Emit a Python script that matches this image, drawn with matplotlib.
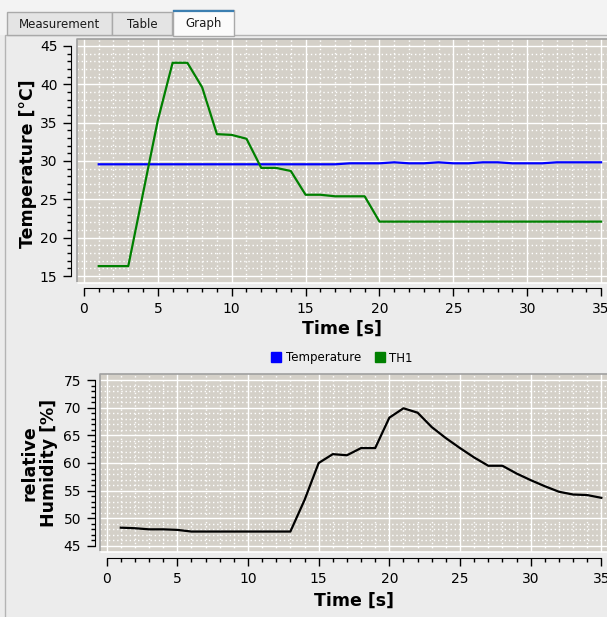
import matplotlib
matplotlib.use('Agg')
import matplotlib.pyplot as plt
from matplotlib.lines import Line2D
from matplotlib.patches import Rectangle
from matplotlib.ticker import FixedLocator

# data (1 sample per second)
time_s = list(range(1, 36))
temperature = [29.57] * 17 + [29.7, 29.7, 29.7, 29.83, 29.7, 29.7, 29.83, 29.7,
                               29.7, 29.83, 29.83, 29.7, 29.7, 29.7, 29.83, 29.83,
                               29.83, 29.83]
th1 = [16.3, 16.3, 16.3, 25.8, 35.3, 42.8, 42.8, 39.6, 33.5, 33.4,
       32.9, 29.1, 29.1, 28.7, 25.6, 25.6, 25.4, 25.4, 25.4, 22.1] + [22.1] * 15
humidity = [48.3, 48.2, 48.0, 48.0, 47.9, 47.6, 47.6, 47.6, 47.6, 47.6,
            47.6, 47.6, 47.6, 53.3, 60.0, 61.6, 61.4, 62.7, 62.7, 68.2,
            69.9, 69.1, 66.5, 64.5, 62.7, 61.0, 59.5, 59.5, 58.1, 56.9,
            55.8, 54.8, 54.3, 54.2, 53.7]

tab_names = ['Measurement', 'Table', 'Graph']
x_ticks = list(range(0, 36, 5))

W, H = 607, 617
fig = plt.figure(figsize=(W / 100, H / 100), dpi=100, facecolor='#ececec')


def box(l, t, r, b):
    return [l / W, 1 - b / H, (r - l) / W, (b - t) / H]


def rect(l, t, r, b, **kw):
    fig.patches.append(Rectangle((l / W, 1 - b / H), (r - l) / W, (b - t) / H,
                                 transform=fig.transFigure, zorder=-5, **kw))


# window chrome: strip above tabs, panel, tabs
rect(0, 0, W, 35, facecolor='#f3f3f3', edgecolor='none')
rect(5, 35, W + 5, H + 5, facecolor='#ececec', edgecolor='#b4b4b4', lw=1)
tab_x = [(7, 112), (112, 172), (173, 234)]
for name, (l, r) in zip(tab_names, tab_x):
    sel = name == 'Graph'
    top = 10 if sel else 12
    rect(l, top, r, 36 if sel else 35,
         facecolor='#fbfbfb' if sel else '#e4e4e4', edgecolor='#a9a9a9', lw=1)
    if sel:
        fig.add_artist(Line2D([(l + 1) / W, (r - 1) / W], [1 - 10.5 / H] * 2,
                              color='#3c7fb1', lw=1.6))
    fig.text((l + r) / 2 / W, 1 - 24 / H, name, ha='center', va='center',
             fontsize=8.5, color='#1a1a1a')


def style(ax, ylim, ybounds, xoff, yoff):
    ax.set_facecolor('#d4d0c8')
    ax.set_xlim(-0.47, 35.4)
    ax.set_ylim(*ylim)
    for s in ['top', 'right']:
        ax.spines[s].set_visible(False)
    ax.spines['left'].set_position(('outward', yoff))
    ax.spines['left'].set_bounds(*ybounds)
    ax.spines['bottom'].set_position(('outward', xoff))
    ax.spines['bottom'].set_bounds(0, 35)
    ax.set_xticks(x_ticks)
    ax.xaxis.set_minor_locator(FixedLocator([v for v in range(0, 36) if v % 5]))
    ax.set_yticks(range(ybounds[0], ybounds[1] + 1, 5))
    ax.yaxis.set_minor_locator(FixedLocator(
        [v for v in range(ybounds[0], ybounds[1] + 1) if v % 5]))
    ax.tick_params(which='major', length=6, width=1, labelsize=10, pad=4)
    ax.tick_params(which='minor', length=3.2, width=1)
    ax.grid(which='major', color='white', lw=1)
    ax.grid(which='minor', color='white', lw=1, ls=(0, (1, 2)))
    ax.set_axisbelow(True)
    # sunken canvas frame
    ax.plot([0, 0, 1], [0, 1, 1], transform=ax.transAxes, color='#a0a0a0',
            lw=1.2, clip_on=False, zorder=5)
    ax.plot([0, 1], [0, 0], transform=ax.transAxes, color='white',
            lw=1.2, clip_on=False, zorder=5)


# temperature plot
ax1 = fig.add_axes(box(77, 39, 607, 283))
style(ax1, (14.1, 45.9), (15, 45), 3.6, 4)
ax1.plot(time_s, temperature, color='#0000ff', lw=1.6, zorder=3)
ax1.plot(time_s, th1, color='#008000', lw=1.6, zorder=3)
ax1.set_xlabel('Time [s]', fontsize=12.5, fontweight='bold', va='center')
ax1.xaxis.set_label_coords(0.5, -(329 - 283) / 244)
ax1.set_ylabel('Temperature [°C]', fontsize=12.5, fontweight='bold', va='center')
ax1.yaxis.set_label_coords((28 - 77) / 530, 0.49)

handles = [Line2D([], [], ls='none', marker='s', markersize=7, color='#0000ff'),
           Line2D([], [], ls='none', marker='s', markersize=7, color='#008000')]
fig.legend(handles, ['Temperature', 'TH1'], loc='center',
           bbox_to_anchor=(342 / W, 1 - 358 / H), ncol=2, frameon=False,
           fontsize=8.5, handlelength=0.8, handletextpad=0.4, columnspacing=1.2)

# humidity plot
ax2 = fig.add_axes(box(100, 374, 607, 552))
style(ax2, (43.9, 76.1), (45, 75), 4.3, 3.6)
ax2.plot(time_s, humidity, color='black', lw=1.6, zorder=3)
ax2.set_xlabel('Time [s]', fontsize=12.5, fontweight='bold', va='center')
ax2.xaxis.set_label_coords(0.5, -(601 - 552) / 178)
ax2.set_ylabel('relative\nHumidity [%]', fontsize=12.5, fontweight='bold',
               va='center', linespacing=1.1)
ax2.yaxis.set_label_coords((39 - 100) / 507, 0.5)

fig.savefig('out.png', dpi=100, facecolor=fig.get_facecolor())
